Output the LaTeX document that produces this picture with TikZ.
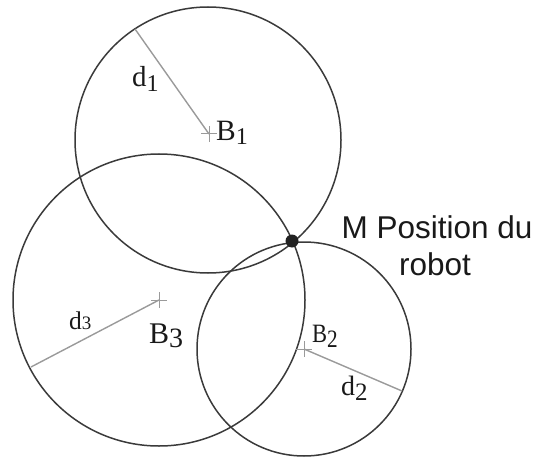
\documentclass[tikz,border=0pt]{standalone}
\usepackage{fontspec}
\setmainfont{Liberation Serif}
\newfontfamily\lsans{Liberation Sans}
\usetikzlibrary{shapes.misc}
\definecolor{circcol}{HTML}{3A3A3A}
\definecolor{radcol}{HTML}{9A9A9A}
\definecolor{dotcol}{HTML}{222222}
\tikzset{
  circ/.style={draw=circcol, line width=1.5pt},
  radline/.style={draw=radcol, line width=1.4pt},
  crossmk/.style={draw=radcol, line width=1pt, cross out, rotate=45, minimum size=10pt, inner sep=0pt},
  lab/.style={anchor=base west, inner sep=0pt, text=black!90},
  mdot/.style={circle, fill=dotcol, minimum size=13pt, inner sep=0pt},
  msg/.style={anchor=base, inner sep=0pt, font=\lsans\fontsize{31.5}{36}\selectfont, text=black!90}
}
\begin{document}
\begin{tikzpicture}[x=1pt,y=-1pt]
\useasboundingbox (0,0) rectangle (540,457);
% beacons
\coordinate (B1) at (208,140);
\coordinate (B2) at (304,349);
\coordinate (B3) at (159,300);
% circles
\draw[circ] (B1) circle[radius=133pt];
\draw[circ] (B3) circle[radius=146pt];
\draw[circ] (B2) circle[radius=107pt];
% radius end points
\coordinate (e1) at (135,29);
\coordinate (e2) at (402,391);
\coordinate (e3) at (31,367);
\coordinate (c1) at (209,134);
% radii
\draw[radline] (e1) -- (c1);
\draw[radline] (B3) -- (e3);
\draw[radline] (B2) -- (e2);
% crosses
\node[crossmk] (x1) at (c1) {};
\node[crossmk] (x2) at (B2) {};
\node[crossmk] (x3) at (B3) {};
% robot position
\node[mdot] (M) at (292,241) {};
% labels
\node[lab] (lB1) at (216,141) {\fontsize{29.5}{32}\selectfont B\raisebox{-4pt}{\fontsize{24}{26}\selectfont 1}};
\node[lab] (ld1) at (132,87) {\fontsize{29}{32}\selectfont d\raisebox{-5pt}{\fontsize{24}{26}\selectfont 1}};
\node[lab] (lB3) at (149,343) {\fontsize{30}{32}\selectfont B\raisebox{-4pt}{\fontsize{28}{30}\selectfont 3}};
\node[lab] (ld3) at (69,329) {\fontsize{25.5}{28}\selectfont d\fontsize{19}{22}\selectfont 3};
\node[lab,xscale=0.85] (lB2) at (312,342) {\fontsize{26.5}{28}\selectfont B\raisebox{-5pt}{\fontsize{25}{26}\selectfont 2}};
\node[lab] (ld2) at (341,395) {\fontsize{28}{30}\selectfont d\raisebox{-5pt}{\fontsize{25}{26}\selectfont 2}};
\node[msg] (t1) at (437,238) {M Position du};
\node[msg] (t2) at (435,275) {robot};
\end{tikzpicture}
\end{document}
